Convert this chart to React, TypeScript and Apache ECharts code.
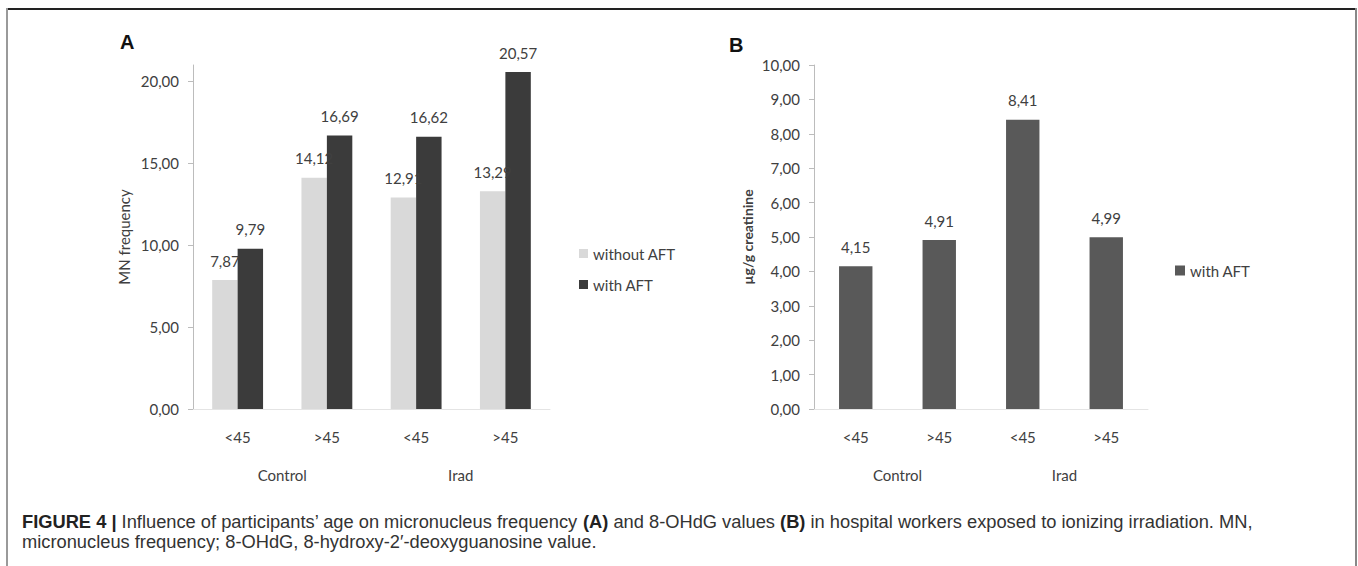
import React, { useEffect, useRef } from "react";
import * as echarts from "echarts";

const ageGroups = ["<45", ">45", "<45", ">45"];
const studyGroups = ["Control", "Irad"];
const mnWithoutAFT = [7.87, 14.12, 12.91, 13.29];
const mnWithAFT = [9.79, 16.69, 16.62, 20.57];
const ohdgWithAFT = [4.15, 4.91, 8.41, 4.99];
const mnTicks = [0, 5, 10, 15, 20];
const captionLine1Parts = [
  "Influence of participants\u2019 age on micronucleus frequency ",
  "(A)",
  " and 8-OHdG values ",
  "(B)",
  " in hospital workers exposed to ionizing irradiation. MN,",
];
const captionLine2 = "micronucleus frequency; 8-OHdG, 8-hydroxy-2\u2032-deoxyguanosine value.";

const FONT = "Lato";
const TXT = "#404040";
const CAP_FONT = "Liberation Sans";
const CAP_SIZE = 18.3;
const fmt = (v: number) => v.toFixed(2).replace(".", ",");

export default function App() {
  const ref = useRef<HTMLDivElement>(null);
  useEffect(() => {
    document.body.style.margin = "0";
    const chart = echarts.init(ref.current!, null, { renderer: "svg" });
    const catAxis = (grid: number, data: string[], margin: number, line: boolean) => ({
      type: "category",
      gridIndex: grid,
      data,
      position: "bottom",
      axisLine: { show: line, lineStyle: { color: "#e4e4e4", width: 1 } },
      axisTick: { show: false },
      axisLabel: { margin, fontSize: 15, color: TXT, fontFamily: FONT, interval: 0 },
      splitLine: { show: false },
    });
    const barLabel = {
      show: true,
      position: "top",
      distance: 12,
      fontSize: 15,
      color: TXT,
      fontFamily: FONT,
      formatter: (p: any) => fmt(p.value),
    };
    const option: any = {
      animation: false,
      backgroundColor: "#ffffff",
      textStyle: { fontFamily: FONT },
      grid: [
        { left: 193, top: 65, width: 357, height: 344 },
        { left: 814, top: 65, width: 334, height: 344 },
      ],
      xAxis: [
        catAxis(0, ageGroups, 20, true),
        catAxis(0, studyGroups, 58, false),
        catAxis(1, ageGroups, 20, true),
        catAxis(1, studyGroups, 58, false),
      ],
      yAxis: [
        {
          type: "value",
          gridIndex: 0,
          min: 0,
          max: 21,
          interval: 5,
          name: "MN frequency",
          nameLocation: "middle",
          nameGap: 62,
          nameTextStyle: { fontSize: 15, color: TXT, fontFamily: FONT },
          axisLine: { show: true, lineStyle: { color: "#bcbcbc" } },
          axisTick: { show: true, length: 5, lineStyle: { color: "#bcbcbc" }, customValues: mnTicks },
          axisLabel: { margin: 14, fontSize: 15, color: TXT, fontFamily: FONT, formatter: fmt, customValues: mnTicks },
          splitLine: { show: false },
        },
        {
          type: "value",
          gridIndex: 1,
          min: 0,
          max: 10,
          interval: 1,
          name: "\u00b5g/g creatinine",
          nameLocation: "middle",
          nameGap: 60,
          nameTextStyle: { fontSize: 14, fontWeight: "bold", color: TXT, fontFamily: FONT },
          axisLine: { show: true, lineStyle: { color: "#bcbcbc" } },
          axisTick: { show: true, length: 5, lineStyle: { color: "#bcbcbc" } },
          axisLabel: { margin: 14, fontSize: 15, color: TXT, fontFamily: FONT, formatter: fmt },
          splitLine: { show: false },
        },
      ],
      legend: [
        {
          orient: "vertical",
          left: 579,
          top: 246,
          padding: 0,
          itemWidth: 9,
          itemHeight: 9,
          itemGap: 16,
          icon: "rect",
          textStyle: { fontSize: 15, color: TXT, fontFamily: FONT },
          data: [
            { name: "without AFT", itemStyle: { color: "#d9d9d9" } },
            { name: "with AFT", itemStyle: { color: "#3b3b3b" } },
          ],
        },
        {
          orient: "vertical",
          left: 1175,
          top: 263,
          padding: 0,
          itemWidth: 10,
          itemHeight: 10,
          icon: "rect",
          textStyle: { fontSize: 15, color: TXT, fontFamily: FONT },
          data: [{ name: "with AFT", itemStyle: { color: "#595959" } }],
        },
      ],
      series: [
        {
          name: "without AFT",
          type: "bar",
          xAxisIndex: 0,
          yAxisIndex: 0,
          data: mnWithoutAFT,
          barGap: "0%",
          barCategoryGap: "43%",
          itemStyle: { color: "#d9d9d9" },
          label: barLabel,
        },
        {
          name: "with AFT",
          type: "bar",
          xAxisIndex: 0,
          yAxisIndex: 0,
          data: mnWithAFT,
          barGap: "0%",
          barCategoryGap: "43%",
          itemStyle: { color: "#3b3b3b" },
          label: barLabel,
        },
        {
          name: "with AFT",
          type: "bar",
          xAxisIndex: 2,
          yAxisIndex: 1,
          data: ohdgWithAFT,
          barWidth: "40%",
          itemStyle: { color: "#595959" },
          label: barLabel,
        },
      ],
      graphic: [
        { type: "line", silent: true, shape: { x1: 6, y1: 9, x2: 1357, y2: 9 }, style: { stroke: "#222", lineWidth: 2 } },
        { type: "line", silent: true, shape: { x1: 7, y1: 8, x2: 7, y2: 566 }, style: { stroke: "#9a9a9a", lineWidth: 2 } },
        { type: "line", silent: true, shape: { x1: 1356, y1: 8, x2: 1356, y2: 566 }, style: { stroke: "#888", lineWidth: 2 } },
        {
          type: "text",
          left: 120,
          top: 32,
          style: { text: "A", fontSize: 20, fontWeight: "bold", fontFamily: "Liberation Sans", fill: "#111" },
        },
        {
          type: "text",
          left: 729,
          top: 35,
          style: { text: "B", fontSize: 20, fontWeight: "bold", fontFamily: "Liberation Sans", fill: "#111" },
        },
        {
          type: "text",
          left: 22,
          top: 512,
          style: {
            text:
              "{b|FIGURE 4 |} " +
              captionLine1Parts[0] +
              "{b|" + captionLine1Parts[1] + "}" +
              captionLine1Parts[2] +
              "{b|" + captionLine1Parts[3] + "}" +
              captionLine1Parts[4],
            fontSize: CAP_SIZE,
            fontFamily: CAP_FONT,
            fill: "#333",
            rich: {
              b: { fontSize: CAP_SIZE, fontWeight: "bold", fontFamily: CAP_FONT, fill: "#222" },
            },
          },
        },
        {
          type: "text",
          left: 22,
          top: 532,
          style: { text: captionLine2, fontSize: CAP_SIZE, fontFamily: CAP_FONT, fill: "#333" },
        },
      ],
    };
    chart.setOption(option);
    return () => chart.dispose();
  }, []);
  return <div ref={ref} style={{ width: 1358, height: 566 }} />;
}
